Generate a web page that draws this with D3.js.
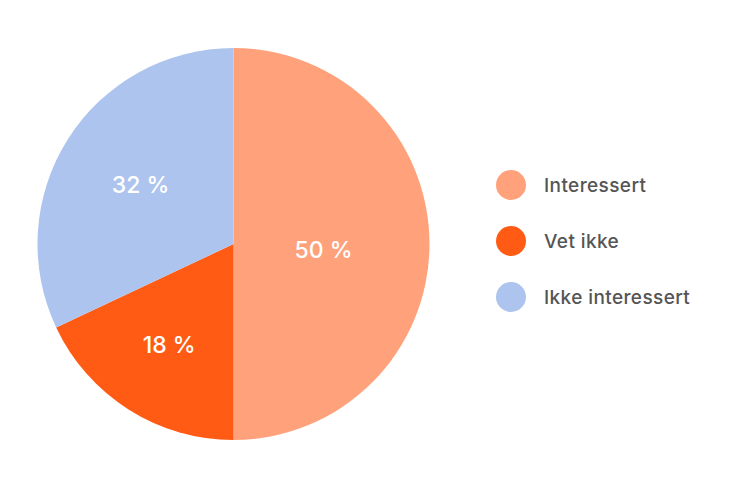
<!DOCTYPE html>
<html>

<head>
    <meta charset='utf-8'>
    <title>Interesse</title>
    <script type='text/javascript' src='https://cdn.jsdelivr.net/npm/d3@7/dist/d3.min.js'></script>
    <style>
        body { margin: 0; background: #fff; }
        text { font-family: Inter, 'Noto Sans', sans-serif; font-weight: 500; }
    </style>
</head>

<body>
    <svg width='746' height='488'></svg>
    <script type='text/javascript'>

        const categories = ['Interessert', 'Vet ikke', 'Ikke interessert']
        const values = [50, 18, 32]
        const labels = ['50 %', '18 %', '32 %']
        const colors = ['#ffa27b', '#ff5b14', '#adc4ee']

        const svg = d3.select('svg')
        const cx = 233.5, cy = 244, radius = 196
        // label distance from centre, per slice
        const labelRadius = [90, 120, 110]

        const pie = d3.pie().sort(null).value(d => d)
        const arcs = pie(values)
        const arc = d3.arc().innerRadius(0).outerRadius(radius)

        const g = svg.append('g').attr('transform', `translate(${cx},${cy})`)

        g.selectAll('path')
            .data(arcs)
            .enter()
            .append('path')
            .attr('d', arc)
            .attr('fill', (d, i) => colors[i])

        g.selectAll('text')
            .data(arcs)
            .enter()
            .append('text')
            .attr('transform', (d, i) => {
                const c = d3.arc().innerRadius(labelRadius[i]).outerRadius(labelRadius[i]).centroid(d)
                return `translate(${c[0]},${c[1] + (i === 0 ? 6 : 0)})`
            })
            .attr('text-anchor', 'middle')
            .attr('dy', '0.35em')
            .attr('fill', '#fff')
            .attr('font-size', 23)
            .text((d, i) => labels[i])

        const legend = svg.append('g').attr('transform', 'translate(511,185)')
        const item = legend.selectAll('g')
            .data(categories)
            .enter()
            .append('g')
            .attr('transform', (d, i) => `translate(0,${i * 56})`)

        item.append('circle')
            .attr('r', 15)
            .attr('fill', (d, i) => colors[i])

        item.append('text')
            .attr('x', 33)
            .attr('dy', '0.35em')
            .attr('fill', '#555')
            .attr('font-size', 19)
            .attr('letter-spacing', 0.4)
            .text(d => d)
    </script>
</body>

</html>
